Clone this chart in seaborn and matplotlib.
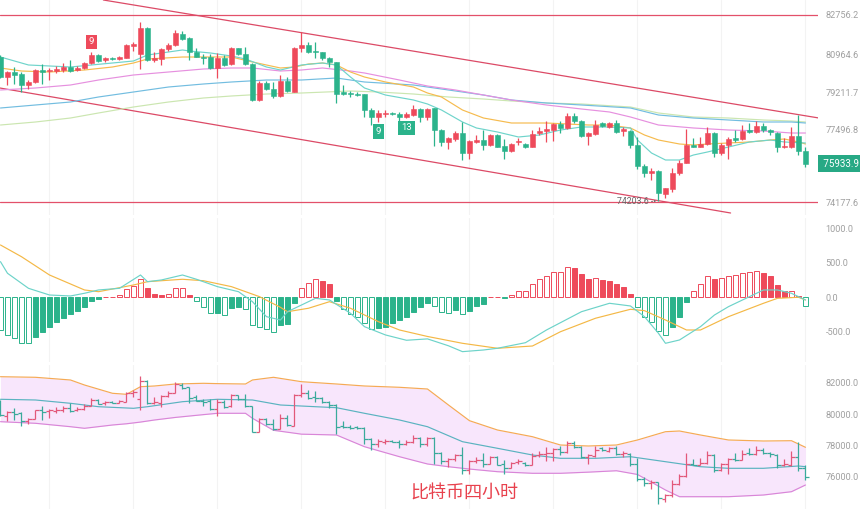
import matplotlib
matplotlib.use("Agg")
import matplotlib.pyplot as plt
import matplotlib.transforms as mtransforms
import seaborn as sns

# 4h BTC candles (red = up, green = down)
opens = [80843, 79898, 80155, 80036, 79545, 79696, 80233, 80187, 80187, 80233,
         80357, 80233, 80311, 80540, 80921, 80692, 80797, 80724, 80797, 81348,
         80953, 82146, 80706, 80738, 81183, 81380, 81884, 81715, 81073, 80843,
         80829, 80311, 80797, 80495, 81229, 80967, 80495, 78857, 79651, 79362,
         79054, 79742, 79238, 81229, 81380, 81105, 81045, 80797, 80586, 79210,
         79164, 79132, 79119, 78398, 78091, 78215, 78275, 78201, 78063, 78169,
         78430, 78091, 78476, 77481, 76944, 77068, 77330, 76412, 76944, 77022,
         76793, 77252, 76747, 76531, 76917, 76839, 76715, 77330, 77435, 77481,
         77742, 77559, 78123, 77894, 77206, 77298, 77788, 77618, 77816, 77435,
         77449, 76793, 75830, 75522, 75614, 74545, 74761, 75495, 75981, 76793,
         76715, 76839, 77357, 76412, 76793, 77100, 77054, 77481, 77403, 77664,
         77481, 77357, 76688, 76715, 77206, 76531]
highs = [80921, 80187, 80357, 80155, 79774, 80265, 80495, 80339, 80430, 80540,
         80692, 80430, 80614, 81045, 80953, 80843, 80829, 80875, 81412, 81531,
         82421, 82192, 81073, 81256, 81458, 82068, 82022, 81747, 81229, 80953,
         80953, 80999, 80921, 81302, 81256, 81274, 80540, 79729, 79729, 79696,
         80004, 79926, 81302, 81962, 81531, 81504, 81073, 80843, 80614, 79545,
         79270, 79210, 79146, 78476, 78398, 78398, 78320, 78293, 78320, 78628,
         78504, 78504, 78504, 77527, 77174, 77449, 77862, 77022, 77252, 77481,
         77298, 77298, 77054, 76885, 77100, 76899, 77481, 77632, 77894, 77788,
         77908, 78247, 78247, 77940, 77403, 77940, 77862, 77862, 77940, 77632,
         77481, 77174, 75921, 75724, 75646, 74834, 75724, 76105, 77513, 77100,
         77146, 77632, 77403, 76870, 77174, 77481, 77710, 77788, 77908, 77816,
         77543, 77403, 77100, 77632, 78169, 76715]
lows = [79852, 79545, 79591, 79210, 79362, 79651, 79591, 79774, 80082, 80155,
        80155, 80187, 80279, 80495, 80614, 80600, 80692, 80678, 80770, 81105,
        80279, 80646, 80614, 80462, 81105, 81348, 81623, 80692, 80816, 80495,
        80265, 79852, 80417, 80462, 80921, 80462, 78811, 78811, 79302, 78963,
        79008, 79210, 79210, 81073, 80999, 80770, 80692, 80385, 78706, 79086,
        79008, 79054, 78091, 77710, 77862, 78077, 78169, 77788, 78018, 78124,
        77862, 77940, 76747, 76747, 76596, 76976, 76105, 76137, 76871, 76564,
        76747, 76688, 76137, 76486, 76793, 76641, 76688, 77252, 76944, 76990,
        77330, 77513, 77816, 77174, 76793, 77252, 77632, 77573, 77357, 77206,
        76641, 75678, 75339, 75187, 74204, 74348, 74651, 75417, 75954, 76688,
        76688, 76793, 76256, 76334, 76137, 76944, 77022, 77330, 77357, 77403,
        77252, 76486, 76641, 76641, 76334, 75770]
closes = [79926, 80155, 80004, 79545, 79696, 80233, 80155, 80233, 80265, 80357,
          80201, 80339, 80540, 80921, 80660, 80797, 80724, 80816, 81380, 81412,
          82146, 80692, 80770, 81183, 81380, 81917, 81655, 81045, 80843, 80770,
          80311, 80797, 80462, 81229, 80967, 80495, 78857, 79651, 79348, 79054,
          79742, 79270, 81256, 81380, 81045, 81045, 80797, 80586, 79132, 79146,
          79119, 79100, 78398, 78091, 78247, 78275, 78201, 78091, 78215, 78430,
          78091, 78430, 77481, 76944, 77100, 77330, 76412, 76976, 77022, 76793,
          77252, 76715, 76531, 76839, 76976, 76715, 77297, 77449, 77513, 77742,
          77559, 78123, 77894, 77206, 77330, 77710, 77664, 77816, 77403, 77513,
          76793, 75830, 75522, 75614, 74577, 74806, 75495, 75981, 76793, 76715,
          76839, 77357, 76412, 76793, 77068, 77022, 77449, 77403, 77664, 77481,
          77403, 76688, 76747, 77206, 76531, 75934]

# moving averages (sampled along the lines)
ma1_idx = [0, 4, 10, 13, 19, 21, 26, 27, 30, 33, 35, 38, 40, 43, 46, 48, 50, 52, 55, 59, 61,
           63, 66, 68, 71, 74, 77, 80, 83, 87, 90, 91, 93, 95, 97, 99, 101, 104, 107, 110, 112, 115]
ma1_val = [80829, 80463, 80371, 80463, 80646, 80921, 81151, 81105, 81013, 80875, 80738, 80371,
           80233, 80463, 80554, 80463, 79912, 79408, 79086, 78857, 78674, 78398, 77848, 77573,
           77389, 77160, 77252, 77481, 77619, 77619, 77573, 77022, 76426, 76105, 76105, 76334,
           76472, 76701, 76931, 77022, 76931, 76885]
ma2_idx = [0, 3, 7, 12, 16, 19, 21, 26, 29, 33, 36, 40, 42, 44, 46, 48, 50, 52, 55, 59, 61, 63,
           66, 69, 73, 78, 81, 84, 87, 90, 92, 94, 97, 99, 101, 104, 107, 110, 112, 114, 115]
ma2_val = [80325, 80187, 80141, 80233, 80371, 80554, 80738, 80829, 80829, 80829, 80600, 80325,
           80371, 80508, 80554, 80463, 80141, 79912, 79683, 79453, 79178, 78995, 78398, 78031,
           77802, 77802, 77756, 77710, 77710, 77573, 77252, 77022, 76839, 76793, 76839, 76885,
           76931, 77022, 77068, 76931, 76839]
ma3_idx = [0, 5, 10, 14, 19, 24, 29, 33, 36, 40, 43, 46, 50, 52, 57, 61, 65, 69, 73, 78, 83,
           87, 90, 94, 99, 104, 109, 113, 115]
ma3_val = [79316, 79408, 79545, 79774, 80004, 80141, 80279, 80325, 80325, 80187, 80233, 80325,
           80187, 80096, 79774, 79499, 79316, 79086, 78857, 78628, 78444, 78307, 78077, 77710,
           77573, 77481, 77435, 77343, 77343]
ma4_idx = [0, 5, 10, 14, 19, 24, 29, 33, 38, 43, 48, 52, 59, 64, 69, 73, 78, 83, 90, 94, 99,
           104, 109, 113, 115]
ma4_val = [78490, 78628, 78765, 78995, 79224, 79453, 79591, 79683, 79774, 79774, 79866, 79683,
           79545, 79316, 79086, 78857, 78720, 78628, 78490, 78169, 78031, 77940, 77848, 77848, 77802]
ma5_idx = [0, 5, 10, 14, 19, 24, 29, 33, 38, 43, 50, 54, 59, 64, 69, 73, 78, 83, 90, 94, 99,
           104, 109, 113, 115]
ma5_val = [77710, 77848, 78031, 78261, 78536, 78765, 78949, 79041, 79132, 79178, 79270, 79224,
           79132, 78995, 78903, 78811, 78720, 78674, 78536, 78261, 78077, 78031, 77940, 77894, 77848]

# trend channel and key levels
chan_up_idx = [14.7, 116.9]
chan_up_val = [83444, 78032]
chan_dn_idx = [-0.1, 104.3]
chan_dn_val = [79408, 73674]
levels = [82756.2, 74177.6]
price_ticks = [82756.2, 80964.6, 79211.7, 77496.8, 74177.6]
last_price = 75933.9
low_label = "74203.6"
low_idx = 94

# TD count markers: (index, price, text, up?)
td_marks = [(13, 81518, "9", True), (54, 77412, "9", False), (58, 77573, "13", False)]

# MACD
macd_hist = [-471, -543, -591, -664, -664, -577, -495, -423, -360, -292, -244, -191, -133, -46,
             -22, 12, 12, 32, 119, 167, 268, 142, 46, 36, 51, 133, 133, 36, -51, -133, -229,
             -220, -254, -157, -133, -171, -398, -432, -456, -495, -398, -384, -75, 133, 214,
             264, 239, 196, -46, -171, -239, -278, -374, -461, -446, -423, -374, -326, -278,
             -206, -142, -75, -123, -206, -229, -181, -239, -191, -123, -94, 12, 12, -12, 36,
             94, 94, 191, 264, 312, 365, 374, 446, 432, 341, 264, 278, 254, 244, 191, 157, 51,
             -142, -287, -350, -481, -543, -432, -278, -61, 94, 196, 312, 268, 287, 312, 326,
             350, 365, 384, 360, 312, 181, 94, 100, 15, -123]
dif_idx = [0, 1, 4, 7, 10, 12, 14, 17, 20, 21, 23, 26, 28, 31, 34, 36, 38, 40, 41, 43, 45, 47,
           50, 52, 55, 58, 61, 64, 66, 69, 71, 75, 78, 83, 87, 90, 92, 94, 95, 97, 100, 102,
           104, 107, 109, 111, 113, 115]
dif_val = [519, 351, 133, 36, 22, 61, 109, 133, 326, 229, 254, 326, 264, 157, 84, -61, -278,
           -326, -206, -109, -12, -36, -229, -423, -543, -620, -600, -700, -785, -761, -736,
           -655, -471, -206, -84, -123, -278, -519, -664, -616, -423, -254, -133, 12, 109, 109,
           61, -36]
dea_idx = [0, 3, 7, 12, 14, 19, 21, 26, 29, 33, 37, 40, 41, 44, 47, 50, 54, 57, 61, 66, 71, 76,
           80, 85, 90, 92, 95, 98, 100, 104, 109, 111, 114, 115]
dea_val = [761, 591, 326, 109, 84, 181, 229, 264, 243, 157, 12, -143, -206, -156, -61, -156,
           -351, -471, -565, -664, -736, -703, -496, -301, -171, -191, -326, -471, -471, -278,
           -84, -12, 3, -36]
macd_ticks = [1000, 500, 0, -500]

# Bollinger bands
bb_idx = [0, 5, 10, 12, 16, 18, 20, 22, 25, 29, 31, 35, 36, 39, 43, 48, 52, 57, 61, 64, 67, 71,
          76, 80, 84, 88, 91, 95, 97, 100, 104, 109, 113, 115]
bb_upper = [82406, 82368, 82194, 81871, 81336, 81271, 81761, 81807, 81936, 81981, 81960, 81936,
            82194, 82368, 82084, 81936, 81807, 81723, 81613, 80581, 79569, 78968, 78536, 78001,
            77937, 78001, 78324, 78859, 78904, 78646, 78324, 78259, 78278, 77853]
bb_lower = [79504, 79401, 79181, 79078, 79291, 79370, 79480, 79614, 79780, 79960, 80046, 80046,
            79723, 78950, 78700, 78646, 77891, 77246, 76776, 76600, 76450, 76279, 76176, 76176,
            76250, 76340, 76100, 75099, 74666, 74666, 74666, 74776, 74989, 75421]
mid_idx = [0, 5, 10, 14, 19, 21, 26, 31, 36, 40, 45, 48, 52, 57, 61, 66, 71, 76, 80, 85, 90, 95,
           100, 104, 109, 114, 115]
bb_mid = [80949, 80904, 80691, 80471, 80368, 80471, 80794, 80949, 80904, 80581, 80471, 80407,
          80046, 79614, 79181, 78214, 77788, 77356, 77143, 77143, 77246, 76924, 76601, 76498,
          76498, 76647, 76601]
bb_ticks = [82000, 80000, 78000, 76000]

grid_idx = [7, 19, 31, 43, 55, 67, 79, 91, 103, 115]
title = "比特币四小时"

UP, DOWN = "#ee4a5b", "#2bb38b"
TICK = "#a0a0a0"

sns.set_style("white")
plt.rcParams['font.family'] = ['Roboto', 'DejaVu Sans']

fig = plt.figure(figsize=(8.6, 5.09), dpi=100)
W = 818 / 860
ax1 = fig.add_axes([0, 1 - 215 / 509, W, 215 / 509])
ax2 = fig.add_axes([0, 1 - 362 / 509, W, 144 / 509])
ax3 = fig.add_axes([0, 0, W, 144 / 509])

n = len(closes)
xs = list(range(n))
up = [c >= o for o, c in zip(opens, closes)]
cols = [UP if u else DOWN for u in up]

for ax in (ax1, ax2, ax3):
    ax.set_xlim(-0.07, 116.79)
    for g in grid_idx:
        ax.axvline(g, color="#f3f3f3", lw=0.8, zorder=0)
    for s in ax.spines.values():
        s.set_visible(False)
    ax.set_xticks([])
    ax.yaxis.tick_right()
    ax.tick_params(axis='y', length=0, pad=5.5, labelsize=6.6, labelcolor=TICK)

# --- price panel ---
ax1.set_ylim(73582, 83444)
for lv in levels:
    ax1.axhline(lv, color="#e3506a", lw=0.9, zorder=1)
ax1.plot(chan_up_idx, chan_up_val, color="#dc4a66", lw=0.9, zorder=1)
ax1.plot(chan_dn_idx, chan_dn_val, color="#dc4a66", lw=0.9, zorder=1)

for idx, val, c in [(ma5_idx, ma5_val, "#cbe6b0"), (ma4_idx, ma4_val, "#72bde0"),
                    (ma3_idx, ma3_val, "#e690df"), (ma2_idx, ma2_val, "#f6bb4e"),
                    (ma1_idx, ma1_val, "#6fd4cb")]:
    sns.lineplot(x=idx, y=val, ax=ax1, color=c, lw=0.85, estimator=None, zorder=2)

ax1.vlines(xs, lows, highs, colors=cols, lw=0.9, zorder=3)
body_lo = [min(o, c) for o, c in zip(opens, closes)]
body_h = [max(abs(c - o), 30) for o, c in zip(opens, closes)]
ax1.bar(xs, body_h, bottom=body_lo, width=0.68, color=cols, edgecolor=cols, lw=0.4, zorder=4)

for i, p, t, is_up in td_marks:
    ax1.text(i, p, t, ha='center', va='center', color='white', fontsize=6.8,
             bbox=dict(boxstyle='square,pad=0.3', fc=UP if is_up else DOWN, ec='none'), zorder=6)

ax1.text(low_idx - 0.3, lows[low_idx], low_label + " -\u2022", ha='right', va='center',
         fontsize=6.3, color="#666666", zorder=6)

ax1.set_yticks(price_ticks)
ax1.set_yticklabels([f"{t:.1f}" for t in price_ticks])
trans = mtransforms.blended_transform_factory(ax1.transAxes, ax1.transData)
ax1.text(1.004, last_price, f" {last_price:.1f}", transform=trans, ha='left', va='center',
         color='white', fontsize=7, clip_on=False,
         bbox=dict(boxstyle='square,pad=0.35', fc="#27a985", ec='none'))

# --- MACD panel ---
ax2.set_ylim(-935, 1152)
prev = [0] + macd_hist[:-1]
for i, (h, p) in enumerate(zip(macd_hist, prev)):
    c = UP if h >= 0 else DOWN
    hollow = abs(h) >= abs(p)
    ax2.bar(i, h, width=0.68, color='white' if hollow else c, edgecolor=c, lw=0.7, zorder=2)
sns.lineplot(x=dea_idx, y=dea_val, ax=ax2, color="#f4b846", lw=0.85, estimator=None, zorder=3)
sns.lineplot(x=dif_idx, y=dif_val, ax=ax2, color="#6dd3c9", lw=0.85, estimator=None, zorder=3)
ax2.set_yticks(macd_ticks)
ax2.set_yticklabels([f"{t:.1f}" for t in macd_ticks])

# --- Bollinger panel ---
ax3.set_ylim(73873, 83161)
ax3.fill_between(bb_idx, bb_lower, bb_upper, color="#f8e6fc", lw=0, zorder=1)
sns.lineplot(x=bb_idx, y=bb_upper, ax=ax3, color="#f5aa55", lw=0.85, estimator=None, zorder=2)
sns.lineplot(x=bb_idx, y=bb_lower, ax=ax3, color="#d986d8", lw=0.85, estimator=None, zorder=2)
sns.lineplot(x=mid_idx, y=bb_mid, ax=ax3, color="#5ab3c0", lw=0.85, estimator=None, zorder=2)
bcols = ["#e2587a" if u else "#3aaa9c" for u in up]
ax3.vlines(xs, lows, highs, colors=bcols, lw=0.9, zorder=3)
ax3.hlines(opens, [x - 0.45 for x in xs], xs, colors=bcols, lw=0.9, zorder=3)
ax3.hlines(closes, xs, [x + 0.45 for x in xs], colors=bcols, lw=0.9, zorder=3)
ax3.set_yticks(bb_ticks)
ax3.set_yticklabels([f"{t:.1f}" for t in bb_ticks])

fig.text(464 / 860, 1 - 494 / 509, title, ha='center', va='center', color="#e8414d",
         fontsize=13, family=['Noto Sans CJK SC', 'DejaVu Sans'])

fig.savefig("out.png", dpi=100)
